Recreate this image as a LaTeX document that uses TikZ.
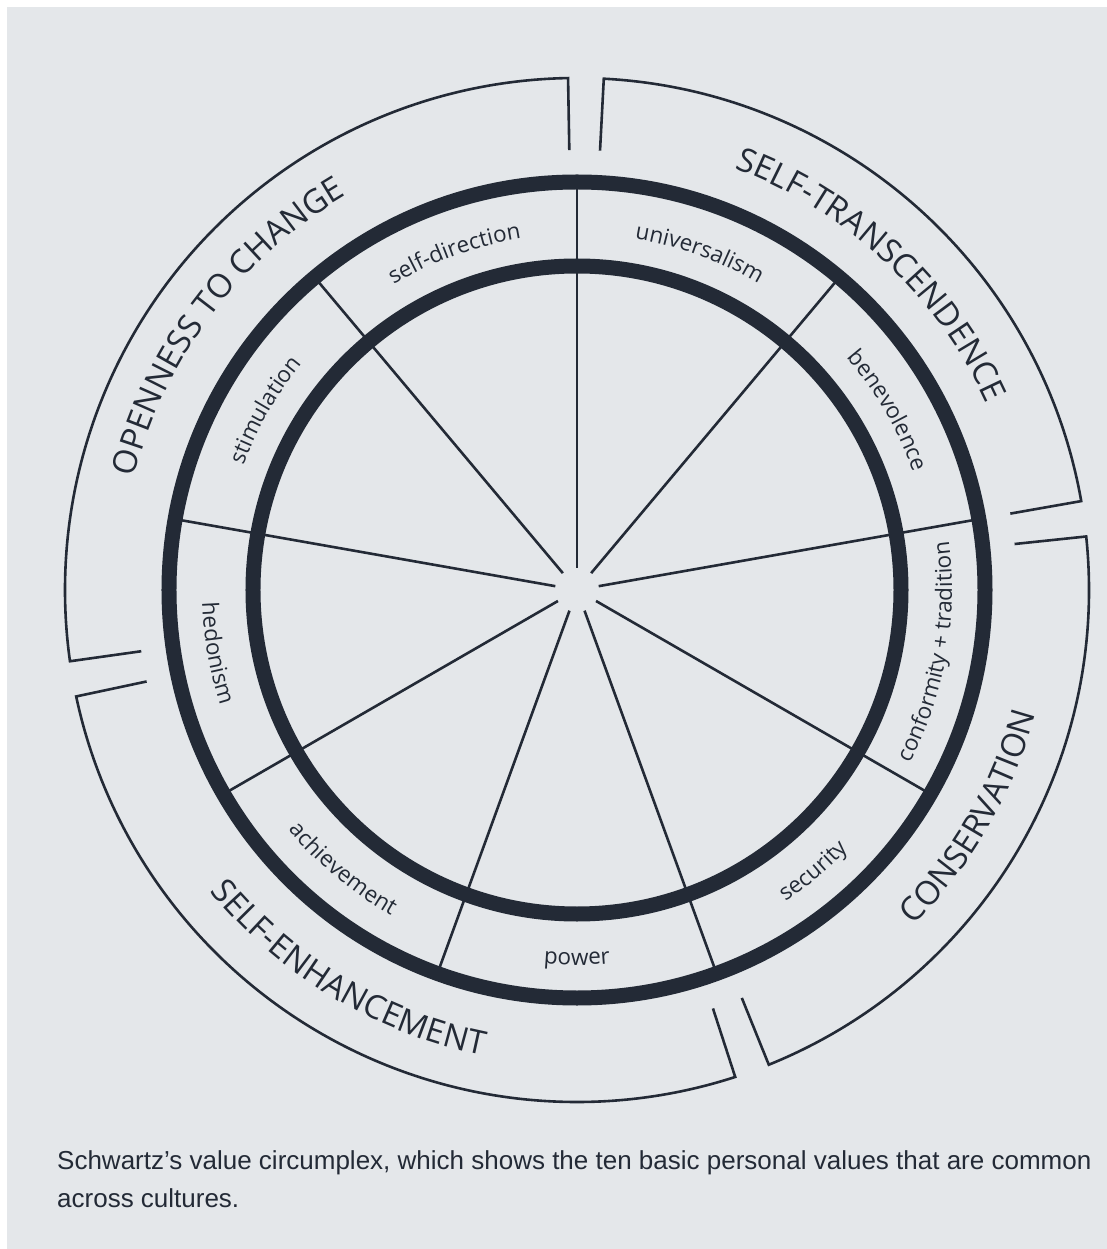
\documentclass[tikz,border=0pt]{standalone}
\usepackage{fontspec}
\setmainfont{Liberation Sans}
\newfontfamily\valuefont{Open Sans}
\usetikzlibrary{decorations.text}
\definecolor{ink}{HTML}{232A36}
\definecolor{paper}{HTML}{E4E7EA}

\begin{document}
\begin{tikzpicture}[x=1pt,y=1pt,
    ring/.style={draw=ink,line width=15pt},
    spoke/.style={draw=ink,line width=2.6pt},
    bracket/.style={draw=ink,line width=2.6pt,line join=miter},
    valuetext/.style={decorate,decoration={text along path,text align=center,text color=ink,
        text={|\valuefont\fontsize{22.5}{26}\selectfont|#1}}},
    grouptext/.style={decorate,decoration={text along path,text align=center,text color=ink,
        text={|\valuefont\fontsize{33}{38}\selectfont|#1}}}]

  % paper
  \fill[white] (-577,-659) rectangle (530,590);
  \fill[paper] (-570,-659) rectangle (530,583);
  \useasboundingbox (-577,-659) rectangle (530,590);

  \coordinate (c) at (0,0);

  % spokes, then the two rings
  \foreach \a in {90,50,...,-230}
    \draw[spoke] (\a:22) -- (\a:408);
  \draw[ring] (c) circle[radius=324];
  \draw[ring] (c) circle[radius=408];

  % outer brackets
  \foreach \s/\e in {91/188,10/87,-68/6,-168/-72}
    \draw[bracket] (\s:440) -- (\s:512) arc[start angle=\s,end angle=\e,radius=512] -- (\e:440);

  % values
  \path[valuetext={stimulation}] (170:356) arc[start angle=170,end angle=130,radius=356];
  \path[valuetext={self-direction}] (130:356) arc[start angle=130,end angle=90,radius=356];
  \path[valuetext={universalism}] (90:356) arc[start angle=90,end angle=50,radius=356];
  \path[valuetext={benevolence}] (50:356) arc[start angle=50,end angle=10,radius=356];
  \path[valuetext={conformity + tradition}] (-30:375) arc[start angle=-30,end angle=10,radius=375];
  \path[valuetext={security}] (-70:375) arc[start angle=-70,end angle=-30,radius=375];
  \path[valuetext={power}] (-110:375) arc[start angle=-110,end angle=-70,radius=375];
  \path[valuetext={achievement}] (-150:375) arc[start angle=-150,end angle=-110,radius=375];
  \path[valuetext={hedonism}] (-190:375) arc[start angle=-190,end angle=-150,radius=375];

  % higher order groups
  \path[grouptext={OPENNESS TO CHANGE}] (191:457) arc[start angle=191,end angle=95,radius=457];
  \path[grouptext={SELF-TRANSCENDENCE}] (85:450) arc[start angle=85,end angle=9,radius=450];
  \path[grouptext={CONSERVATION}] (-68:475) arc[start angle=-68,end angle=8,radius=475];
  \path[grouptext={SELF-ENHANCEMENT}] (-169:475) arc[start angle=-169,end angle=-73,radius=475];

  \node[anchor=base west,align=left,inner sep=0pt,text=ink,
        font=\fontsize{26}{38}\selectfont] (caption) at (-520,-617)
    {Schwartz’s value circumplex, which shows the ten basic personal values that are common\\across cultures.};
\end{tikzpicture}
\end{document}
